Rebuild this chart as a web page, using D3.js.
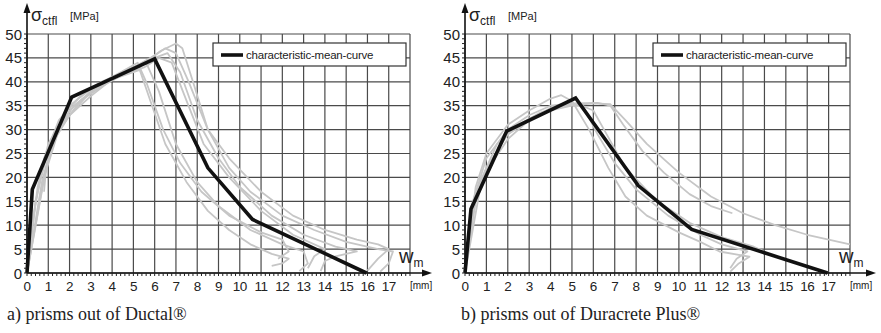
<!DOCTYPE html>
<html><head><meta charset="utf-8">
<script src="https://cdn.jsdelivr.net/npm/d3@7"></script>
<style>body{margin:0;background:#fff}svg{display:block}</style>
</head><body>
<svg id="c" width="881" height="333"></svg>
<script>
// ---- data ----
const yTicks = [0,5,10,15,20,25,30,35,40,45,50];
const xTicks = [0,1,2,3,4,5,6,7,8,9,10,11,12,13,14,15,16,17];
const legendLabel = "characteristic-mean-curve";
const captions = ["a) prisms out of Ductal®", "b) prisms out of Duracrete Plus®"];

const meanDuctal = [[0,0],[0.25,17.5],[2.1,36.8],[6,44.8],[8.5,22],[10.6,11.2],[15.95,0]];
const meanDuracrete = [[0,0],[0.28,13.4],[1.95,29.7],[5.17,36.6],[8.1,18.3],[10.6,9.1],[16.95,0]];

const testsDuctal = [
  [[0,0],[0.3,12],[0.8,24],[1.5,32],[2.5,37],[3.5,40],[4.5,42],[5.5,44],[6.3,46.5],[7,48],[7.3,47],[7.8,40],[8.5,30],[9.5,22],[10.5,17],[12,12],[13.5,9],[15,6.5],[16.5,5],[17.2,4.5],[17,2],[16.6,0.3]],
  [[0,0],[0.4,15],[1,26],[2,34],[3,38],[4,41],[5,43],[6,45],[6.6,46],[7.2,42],[8,32],[9,24],[10,18],[11.5,12],[13,8],[14.5,5.5],[15.5,4.5],[14.5,3.5],[14,2.5],[13.8,0.4]],
  [[0,0],[0.5,18],[1,27],[2,35],[3,38.5],[4,41],[5,43],[5.6,44],[6.2,38],[7,27],[8,19],[9,14],[10.5,9],[12,6],[13,4.5],[13.2,2],[12.8,0.4]],
  [[0,0],[0.8,20],[1.5,30],[2.5,36],[3.5,39],[4.5,41.5],[5.5,43],[6.2,45],[6.8,44],[7.5,36],[8.3,27],[9.5,20],[11,13],[12.5,8],[14,5],[13.5,3.5],[13.2,1]],
  [[0,0],[0.9,22],[1.2,28],[2,33],[3,37],[4,40.5],[5,42],[5.3,42.5],[5.8,36],[6.5,27],[7.5,19],[8.5,13],[9.5,9],[10.5,6],[11.5,4],[12.3,3],[12,2],[11.5,1.5]],
  [[0,0],[0.7,19],[1.3,29],[2.2,35],[3.2,38.5],[4.2,41],[5.2,43.5],[6,45.5],[6.5,47],[7,46],[7.6,40],[8.5,30],[9.5,24],[11,17],[12.5,12],[14,9],[15.5,7],[16.5,6],[17,5],[16.5,3],[16,0.5]],
  [[0.8,17],[0.9,22],[1.3,28],[2,33],[3,38],[4,41],[4.8,43],[5.2,44],[5.6,40],[6.4,30],[7.2,23],[8.2,17],[9.5,12],[11,8.5],[12,7],[12.3,4.5],[11.8,3]]
];
const testsDuracrete = [
  [[0,0],[0.4,14],[1,22],[2,29],[3,32],[4,34],[5,35],[6,35.5],[6.8,35.3],[7.5,32],[8.5,27],[10,21],[11.5,16],[13,12.5],[14.5,10],[16,8],[17,7],[18,6]],
  [[0,0],[0.5,18],[1,25],[2,31],[3,34],[4,36.5],[4.5,37.2],[5,36],[5.8,30],[6.7,22],[7.5,16],[8.5,12],[10,8.5],[11,6.5],[11.9,4.5],[12.8,3.8],[13.3,3.4],[12.8,2],[12.4,0.3]],
  [[0,0],[0.3,14],[1,24],[2,30],[3,33],[4,35],[5,35.5],[5.5,35],[6.2,29],[7,23],[8,17.5],[9.5,12],[11,8],[12,6],[13.2,4.5],[12.7,3],[12.4,1]],
  [[0,0],[0.6,18],[1.5,27],[2.5,31],[3.5,33.5],[4.5,35],[5.3,35.3],[6,34],[6.5,30],[7.5,22],[9,15],[10.5,10.5],[12,7.5],[13.5,5.5],[14,4.5]],
  [[0,0],[0.8,20],[2,28],[3,32],[4,34.5],[5,35.5],[6.2,35.6],[6.8,35],[7.4,31],[8.3,25.5],[9.3,21],[10.5,16.5],[11.5,14],[12.5,12.5]]
];

// ---- drawing ----
const svg = d3.select("#c");
const panels = [
  {x0:27, x1:410, means:meanDuctal, tests:testsDuctal, caption:captions[0], capX:7},
  {x0:465, x1:850, means:meanDuracrete, tests:testsDuracrete, caption:captions[1], capX:461}
];
const yTop = 34, yBot = 273;

panels.forEach(p => {
  const g = svg.append("g");
  const x = d3.scaleLinear().domain([0,18]).range([p.x0, p.x1]);
  const y = d3.scaleLinear().domain([0,50]).range([yBot, yTop]);

  // grid
  const grid = g.append("g").attr("stroke","#4a4a4a").attr("stroke-width",1.2);
  d3.range(0,19).forEach(v => grid.append("line")
    .attr("x1",x(v)).attr("x2",x(v)).attr("y1",y(0)).attr("y2",y(50)));
  yTicks.forEach(v => grid.append("line")
    .attr("x1",x(0)).attr("x2",x(18)).attr("y1",y(v)).attr("y2",y(v)));

  const line = d3.line().x(d=>x(d[0])).y(d=>y(d[1]));
  // test curves
  p.tests.forEach(t => g.append("path").attr("d",line(t))
    .attr("fill","none").attr("stroke","#c6c6c6").attr("stroke-width",1.8)
    .attr("stroke-linejoin","round"));
  // mean curve
  g.append("path").attr("d",line(p.means)).attr("fill","none")
    .attr("stroke","#111").attr("stroke-width",3.6).attr("stroke-linejoin","miter");

  // axes lines
  g.append("line").attr("x1",x(0)).attr("x2",x(0)).attr("y1",yBot).attr("y2",10)
    .attr("stroke","#111").attr("stroke-width",1.6);
  g.append("path").attr("d",`M${x(0)-3.5},${13}L${x(0)},${3}L${x(0)+3.5},${13}Z`).attr("fill","#111");
  const xEnd = x(18)+ (p.x0===27 ? 22 : 26);
  g.append("line").attr("x1",x(0)).attr("x2",xEnd-8).attr("y1",yBot).attr("y2",yBot)
    .attr("stroke","#111").attr("stroke-width",1.6);
  g.append("path").attr("d",`M${xEnd-10},${yBot-3.5}L${xEnd},${yBot}L${xEnd-10},${yBot+3.5}Z`).attr("fill","#111");

  // minor dotted ticks
  const mt = g.append("g").attr("stroke","#222").attr("stroke-width",1);
  d3.range(0,50.01,1).forEach(v => mt.append("line")
    .attr("x1",x(0)-3).attr("x2",x(0)).attr("y1",y(v)).attr("y2",y(v)));
  d3.range(0,18.01,0.2).forEach(v => mt.append("line")
    .attr("x1",x(v)).attr("x2",x(v)).attr("y1",yBot).attr("y2",yBot+3));

  // tick labels
  yTicks.forEach(v => g.append("text").attr("x",x(0)-5).attr("y",y(v)+5.5)
    .attr("text-anchor","end").attr("font-family","Liberation Sans, Arial, sans-serif")
    .attr("font-size",15).attr("fill","#222").text(v));
  xTicks.forEach(v => g.append("text").attr("x",x(v)).attr("y",yBot+18)
    .attr("text-anchor","middle").attr("font-family","Liberation Sans, Arial, sans-serif")
    .attr("font-size",13.5).attr("letter-spacing",-0.5).attr("fill","#222").text(v));
  g.append("text").attr("x",x(18)+0).attr("y",yBot+16).attr("font-family","Liberation Sans, Arial, sans-serif")
    .attr("font-size",10).attr("fill","#222").text("[mm]");

  // axis titles
  const yt = g.append("text").attr("x",x(0)+4).attr("y",21)
    .attr("font-family","Liberation Sans, Arial, sans-serif").attr("fill","#222");
  yt.append("tspan").attr("font-size",18).text("σ");
  yt.append("tspan").attr("font-size",12).attr("dy",4).text("ctfl");
  g.append("text").attr("x",x(0)+43).attr("y",20).attr("font-family","Liberation Sans, Arial, sans-serif")
    .attr("font-size",11).attr("fill","#222").text("[MPa]");
  const xt = g.append("text").attr("x",x(18)-11).attr("y",yBot-10)
    .attr("font-family","Liberation Sans, Arial, sans-serif").attr("fill","#222");
  xt.append("tspan").attr("font-size",20).text("w");
  xt.append("tspan").attr("font-size",12).attr("dy",4).text("m");

  // legend
  const lx = x(18)-197, ly = 43;
  g.append("rect").attr("x",lx).attr("y",ly).attr("width",193).attr("height",23)
    .attr("fill","#fff").attr("stroke","#333").attr("stroke-width",1.2);
  g.append("line").attr("x1",lx+8).attr("x2",lx+30).attr("y1",ly+12).attr("y2",ly+12)
    .attr("stroke","#111").attr("stroke-width",3.6);
  g.append("text").attr("x",lx+33).attr("y",ly+16).attr("font-family","Liberation Sans, Arial, sans-serif")
    .attr("font-size",11.5).attr("letter-spacing",-0.2).attr("fill","#222").text(legendLabel);

  // caption
  g.append("text").attr("x",p.capX).attr("y",320).attr("font-family","Liberation Serif, Times New Roman, serif")
    .attr("font-size",18).attr("fill","#222").text(p.caption);
});
</script>
</body></html>
